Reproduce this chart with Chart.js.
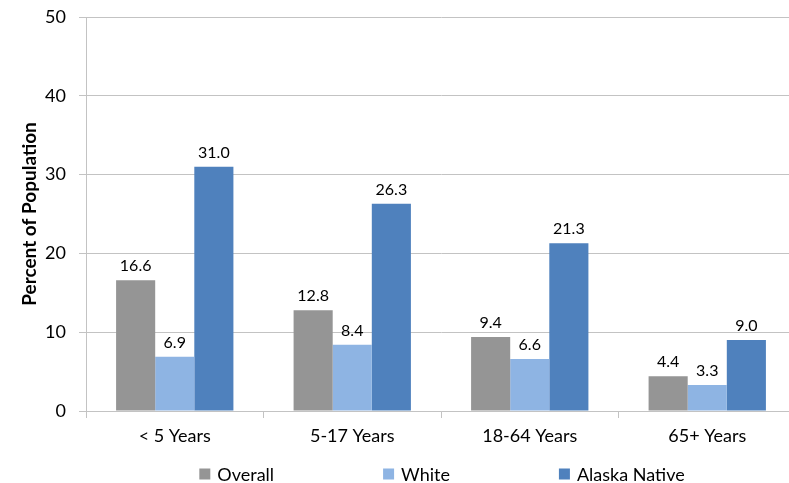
<!DOCTYPE html>
<html>
<head>
<meta charset="utf-8">
<script src="https://cdn.jsdelivr.net/npm/chart.js@4/dist/chart.umd.min.js"></script>
<style>
  html, body { margin: 0; padding: 0; overflow: hidden; background: #fff; }
  #wrap { width: 797px; height: 483px; position: relative; }
</style>
</head>
<body>
<div id="wrap"><canvas id="chart"></canvas></div>
<script>
// Age groups and rates by population group (percent)
const categories = ['< 5 Years', '5-17 Years', '18-64 Years', '65+ Years'];
const seriesNames = ['Overall', 'White', 'Alaska Native'];
const overall = [16.6, 12.8, 9.4, 4.4];
const white = [6.9, 8.4, 6.6, 3.3];
const alaskaNative = [31.0, 26.3, 21.3, 9.0];
const yTicks = [0, 10, 20, 30, 40, 50];

const colors = ['#959595', '#8eb4e3', '#4f81bd'];
const FONT = 'Lato, "Open Sans", sans-serif';
const gridColor = '#c3c3c3';

// Value labels above every bar
const valueLabels = {
  id: 'valueLabels',
  afterDatasetsDraw(chart) {
    const ctx = chart.ctx;
    ctx.save();
    ctx.font = '16px ' + FONT;
    ctx.fillStyle = '#000';
    ctx.textAlign = 'center';
    ctx.textBaseline = 'bottom';
    chart.data.datasets.forEach((ds, di) => {
      chart.getDatasetMeta(di).data.forEach((bar, i) => {
        ctx.fillText(ds.data[i].toFixed(1), bar.x, bar.y - 6);
      });
    });
    ctx.restore();
  }
};

// Legend row along the bottom, spread out wide
const bottomLegend = {
  id: 'bottomLegend',
  afterDraw(chart) {
    const ctx = chart.ctx;
    const box = 11, gapText = 7, gapItem = 109, yc = 474;
    ctx.save();
    ctx.font = '18px ' + FONT;
    ctx.textBaseline = 'middle';
    const widths = chart.data.datasets.map(ds => box + gapText + ctx.measureText(ds.label).width);
    const total = widths.reduce((a, b) => a + b, 0) + gapItem * (widths.length - 1);
    const ca = chart.chartArea;
    let x = (ca.left + ca.right) / 2 + 1 - total / 2;
    chart.data.datasets.forEach((ds, i) => {
      ctx.fillStyle = ds.backgroundColor;
      ctx.fillRect(x, yc - box / 2, box, box);
      ctx.fillStyle = '#000';
      ctx.textAlign = 'left';
      ctx.fillText(ds.label, x + box + gapText, yc + 1);
      x += widths[i] + gapItem;
    });
    ctx.restore();
  }
};

new Chart(document.getElementById('chart'), {
  type: 'bar',
  data: {
    labels: categories,
    datasets: [
      { label: seriesNames[0], data: overall, backgroundColor: colors[0] },
      { label: seriesNames[1], data: white, backgroundColor: colors[1] },
      { label: seriesNames[2], data: alaskaNative, backgroundColor: colors[2] }
    ]
  },
  options: {
    responsive: true,
    maintainAspectRatio: false,
    animation: false,
    events: [],
    layout: { padding: { top: 17, right: 1, bottom: 0, left: 0 } },
    datasets: { bar: { categoryPercentage: 0.661, barPercentage: 1.0 } },
    plugins: {
      legend: { display: false },
      tooltip: { enabled: false }
    },
    scales: {
      x: {
        grid: {
          offset: true,
          drawOnChartArea: false,
          drawTicks: true,
          tickLength: 7,
          color: gridColor
        },
        border: { color: gridColor, width: 1 },
        ticks: {
          color: '#000',
          font: { family: FONT, size: 18 },
          padding: 7,
          maxRotation: 0
        },
        afterFit(scale) { scale.height = 72; }
      },
      y: {
        min: 0,
        max: 50,
        afterBuildTicks(scale) { scale.ticks = yTicks.map(v => ({ value: v })); },
        grid: {
          color: gridColor,
          drawTicks: true,
          tickLength: 7
        },
        border: { color: gridColor, width: 1 },
        ticks: {
          color: '#000',
          font: { family: FONT, size: 18 },
          padding: 13
        },
        title: {
          display: true,
          text: 'Percent of Population',
          color: '#000',
          font: { family: FONT, size: 19, weight: 'bold' },
          padding: { top: 18, bottom: 0 }
        },
        afterFit(scale) {
          scale.width = 86;
          scale.paddingTop = 0;
          scale.paddingBottom = 0;
        }
      }
    }
  },
  plugins: [valueLabels, bottomLegend]
});
</script>
</body>
</html>
